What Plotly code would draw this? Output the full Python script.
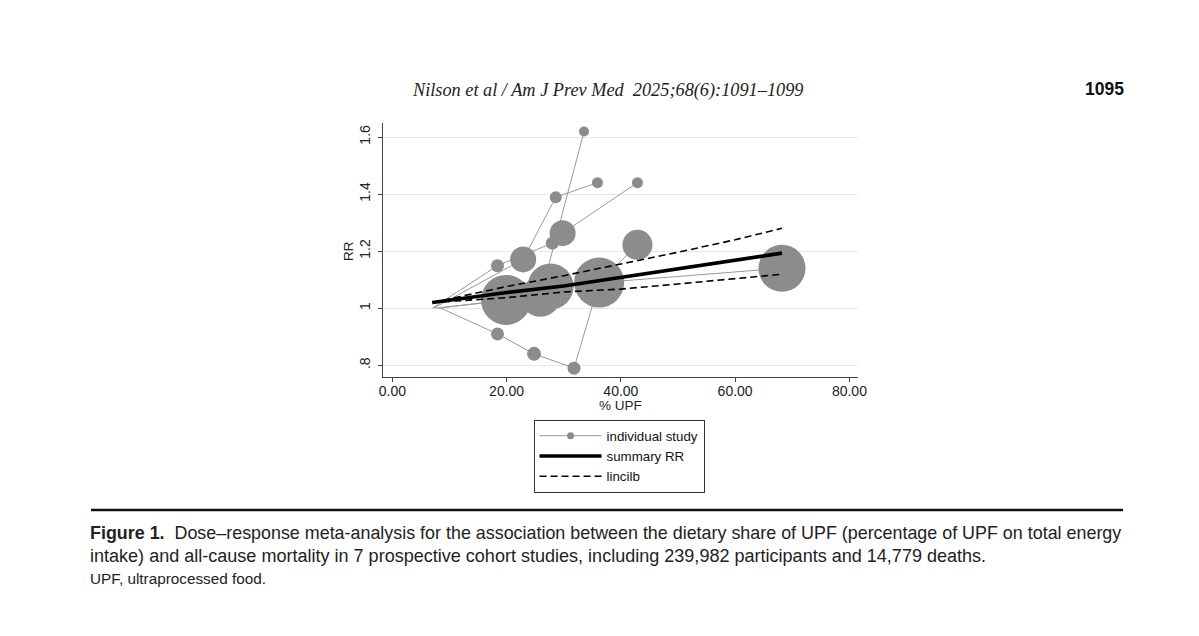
import plotly.graph_objects as go

W, H = 1199, 636

# ---- individual studies (exposure % UPF, RR, marker diameter ~ weight) ----
study1_upf = [7.0, 18.4, 28.0, 29.8, 42.9]
study1_rr = [1.00, 1.149, 1.228, 1.263, 1.44]
study1_w = [0, 13, 13, 26, 11]

study2_upf = [7.2, 22.9, 28.6, 35.9]
study2_rr = [1.00, 1.171, 1.389, 1.44]
study2_w = [0, 26, 12, 11]

study3_upf = [7.5, 25.9, 33.55]
study3_rr = [1.00, 1.040, 1.619]
study3_w = [0, 40, 10]

study4_upf = [8.5, 18.4, 24.8, 31.8, 36.2, 42.9]
study4_rr = [1.00, 0.910, 0.840, 0.790, 1.090, 1.222]
study4_w = [0, 13, 14, 13, 50, 30]

study5_upf = [8.0, 19.9, 27.7, 68.2]
study5_rr = [1.00, 1.029, 1.076, 1.140]
study5_w = [0, 50, 46, 47]

# ---- pooled dose-response curve and confidence limits ----
summary_upf = [7.0, 20.0, 30.0, 40.0, 50.0, 60.0, 68.2]
summary_rr = [1.020, 1.055, 1.078, 1.108, 1.137, 1.166, 1.193]
ci_upper = [1.020, 1.076, 1.114, 1.154, 1.196, 1.240, 1.280]
ci_lower = [1.020, 1.037, 1.057, 1.067, 1.085, 1.103, 1.119]

x_ticks = [0, 20, 40, 60, 80]
x_ticklabels = ["0.00", "20.00", "40.00", "60.00", "80.00"]
y_ticks = [0.8, 1.0, 1.2, 1.4, 1.6]
y_ticklabels = [".8", "1", "1.2", "1.4", "1.6"]

header_text = "Nilson et al / Am J Prev Med  2025;68(6):1091\u20131099"
page_number = "1095"
caption_line1 = ("<b>Figure 1.</b>  Dose\u2013response meta-analysis for the association between the "
                 "dietary share of UPF (percentage of UPF on total energy")
caption_line2 = ("intake) and all-cause mortality in 7 prospective cohort studies, including "
                 "239,982 participants and 14,779 deaths.")
caption_line3 = "UPF, ultraprocessed food."

GREY_LINE = "#9a9a9a"
GREY_MARK = "#8c8c8c"
FONT = "Liberation Sans, Arial, sans-serif"


def px(x):
    """horizontal page position (px) -> paper fraction, with a small capture correction"""
    return (x - 3.0) / 0.99 / W


def py(y):
    return 1 - y / H


studies = [
    (study1_upf, study1_rr, study1_w),
    (study2_upf, study2_rr, study2_w),
    (study3_upf, study3_rr, study3_w),
    (study4_upf, study4_rr, study4_w),
    (study5_upf, study5_rr, study5_w),
]

fig = go.Figure()

# connecting lines of each study
for xs, ys, ws in studies:
    fig.add_trace(go.Scatter(x=xs, y=ys, mode="lines",
                             line=dict(color=GREY_LINE, width=1),
                             showlegend=False, hoverinfo="skip"))

# study markers sized by weight (reference category has no marker)
mx, my, ms = [], [], []
for xs, ys, ws in studies:
    for xv, yv, wv in zip(xs, ys, ws):
        if wv > 0:
            mx.append(xv); my.append(yv); ms.append(wv)
fig.add_trace(go.Scatter(x=mx, y=my, mode="markers",
                         marker=dict(color=GREY_MARK, size=ms, line=dict(width=0), opacity=1),
                         showlegend=False))

fig.add_trace(go.Scatter(x=summary_upf, y=summary_rr, mode="lines",
                         line=dict(color="black", width=3.6), showlegend=False))
fig.add_trace(go.Scatter(x=summary_upf, y=ci_upper, mode="lines",
                         line=dict(color="black", width=1.6, dash="7px,4px"), showlegend=False))
fig.add_trace(go.Scatter(x=summary_upf, y=ci_lower, mode="lines",
                         line=dict(color="black", width=1.6, dash="7px,4px"), showlegend=False))

# legend entries
fig.add_trace(go.Scatter(x=[None], y=[None], mode="lines+markers", name="individual study",
                         line=dict(color=GREY_LINE, width=1),
                         marker=dict(color=GREY_MARK, size=7)))
fig.add_trace(go.Scatter(x=[None], y=[None], mode="lines", name="summary RR",
                         line=dict(color="black", width=3.6)))
fig.add_trace(go.Scatter(x=[None], y=[None], mode="lines", name="lincilb",
                         line=dict(color="black", width=1.6, dash="7px,4px")))

fig.update_layout(
    width=W, height=H, autosize=False,
    margin=dict(l=0, r=0, t=0, b=0),
    paper_bgcolor="white", plot_bgcolor="white",
    font=dict(family=FONT, color="#222222", size=14),
    xaxis=dict(domain=[px(382.3), px(857.7)], range=[-1.64, 81.5],
               tickmode="array", tickvals=x_ticks, ticktext=x_ticklabels,
               showgrid=False, zeroline=False, showline=True, linecolor="#444444", linewidth=1,
               ticks="outside", ticklen=4, tickcolor="#444444", ticklabelstandoff=-3,
               tickfont=dict(size=14, color="#222222"),
               title=dict(text="% UPF", font=dict(size=13.5), standoff=0)),
    yaxis=dict(domain=[py(376.7), py(123.3)], range=[0.760, 1.648],
               tickmode="array", tickvals=y_ticks, ticktext=y_ticklabels, tickangle=-90,
               showgrid=True, gridcolor="#e8e8e8", gridwidth=1,
               zeroline=False, showline=True, linecolor="#444444", linewidth=1,
               ticks="outside", ticklen=4, tickcolor="#444444", ticklabelstandoff=2,
               tickfont=dict(size=14, color="#222222")),
    legend=dict(x=px(533), y=py(419.5), xanchor="left", yanchor="top",
                bordercolor="#333333", borderwidth=1, bgcolor="white",
                font=dict(size=13.3, color="#111111"), itemwidth=62,
                tracegroupgap=0),
    showlegend=True,
)

annotations = [
    dict(text="RR", x=px(347.5), y=py(250.7), xanchor="center", yanchor="middle", textangle=-90,
         font=dict(family=FONT, size=13.5, color="#222222"), showarrow=False),
    dict(text="<i>" + header_text + "</i>", x=px(607), y=py(90.5), xanchor="center", yanchor="middle",
         font=dict(family="Liberation Serif, Times New Roman, serif", size=18.3, color="#222222"),
         showarrow=False),
    dict(text="<b>" + page_number + "</b>", x=px(1125.5), y=py(88.7), xanchor="right", yanchor="middle",
         font=dict(family=FONT, size=17.5, color="#111111"), showarrow=False),
    dict(text=caption_line1, x=px(87), y=py(533), xanchor="left", yanchor="middle",
         font=dict(family=FONT, size=17.9, color="#222222"), showarrow=False),
    dict(text=caption_line2, x=px(87), y=py(556), xanchor="left", yanchor="middle",
         font=dict(family=FONT, size=18.05, color="#222222"), showarrow=False),
    dict(text=caption_line3, x=px(87), y=py(578.5), xanchor="left", yanchor="middle",
         font=dict(family=FONT, size=15.3, color="#222222"), showarrow=False),
]
for a in annotations:
    a["xref"] = "paper"; a["yref"] = "paper"
fig.update_layout(annotations=annotations)

fig.add_shape(type="line", xref="paper", yref="paper",
              x0=px(90), x1=px(1123), y0=py(510), y1=py(510),
              line=dict(color="#111111", width=2.5))

fig.write_html("out.html", config={"displayModeBar": False, "responsive": False},
               post_script=("document.documentElement.style.overflow='hidden';"
                            "document.body.style.overflow='hidden';"
                            "document.body.style.margin='0';"))
